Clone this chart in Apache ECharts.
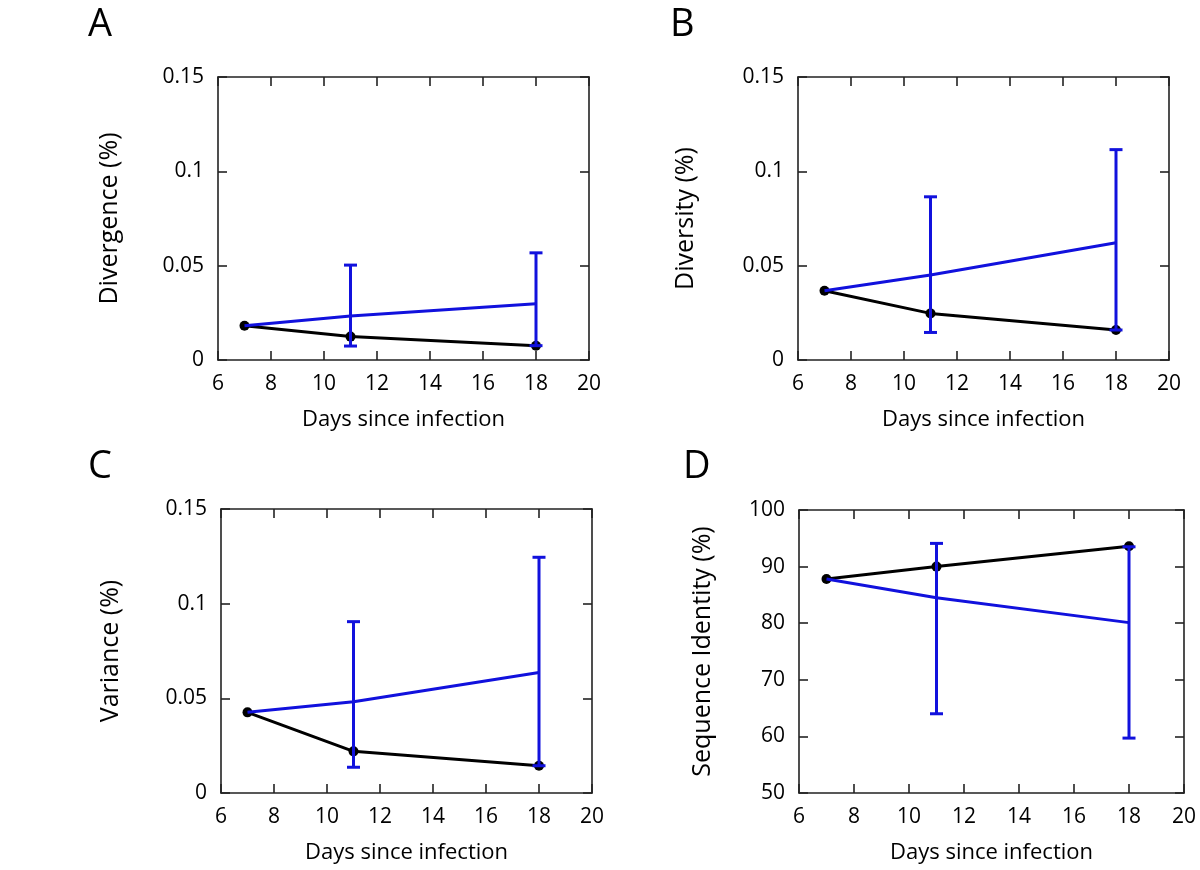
<!DOCTYPE html>
<html>
<head>
<meta charset="utf-8">
<script src="https://cdn.jsdelivr.net/npm/echarts@6/dist/echarts.min.js"></script>
<style>
html,body{margin:0;padding:0;background:#fff;}
#chart{width:1200px;height:870px;}
</style>
</head>
<body>
<div id="chart"></div>
<script>
// ---- data ----
var days = [7, 11, 18];
var errDays = [11, 18];
var xTicks = [6, 8, 10, 12, 14, 16, 18, 20];

var divergenceBlack = [0.0182, 0.0124, 0.0076];
var divergenceBlue  = [0.0182, 0.0233, 0.0298];
var divergenceLow   = [0.0074, 0.0076];
var divergenceHigh  = [0.0503, 0.0568];

var diversityBlack = [0.0367, 0.0247, 0.0159];
var diversityBlue  = [0.0367, 0.0450, 0.0621];
var diversityLow   = [0.0146, 0.0159];
var diversityHigh  = [0.0865, 0.1115];

var varianceBlack = [0.0426, 0.0220, 0.0144];
var varianceBlue  = [0.0426, 0.0482, 0.0637];
var varianceLow   = [0.0136, 0.0144];
var varianceHigh  = [0.0905, 0.1245];

var identityBlack = [87.8, 90.0, 93.6];
var identityBlue  = [87.8, 84.5, 80.1];
var identityLow   = [64.0, 59.7];
var identityHigh  = [94.1, 93.5];

var panelLetters = ['A', 'B', 'C', 'D'];
var yNames = ['Divergence (%)', 'Diversity (%)', 'Variance (%)', 'Sequence Identity (%)'];
var xName = 'Days since infection';

// ---- layout ----
var FONT = 'Open Sans';
var BLUE = '#1111dd';
var panels = [
  {grid:{left:218, top:77, width:371, height:283}, yMin:0, yMax:0.15, yInt:0.05, gap:96,
   black:divergenceBlack, blue:divergenceBlue, low:divergenceLow, high:divergenceHigh, letter:{left:83, top:1}},
  {grid:{left:798, top:77, width:371, height:283}, yMin:0, yMax:0.15, yInt:0.05, gap:100,
   black:diversityBlack, blue:diversityBlue, low:diversityLow, high:diversityHigh, letter:{left:665, top:1}},
  {grid:{left:221, top:509, width:371, height:284}, yMin:0, yMax:0.15, yInt:0.05, gap:98,
   black:varianceBlack, blue:varianceBlue, low:varianceLow, high:varianceHigh, letter:{left:83, top:443}},
  {grid:{left:799, top:510, width:385, height:283}, yMin:50, yMax:100, yInt:10, gap:84,
   black:identityBlack, blue:identityBlue, low:identityLow, high:identityHigh, letter:{left:678, top:443}}
];

var option = {
  backgroundColor:'#fff',
  animation:false,
  title:[], grid:[], xAxis:[], yAxis:[], series:[]
};

var axisLineStyle = {color:'#222', width:1.6};
panels.forEach(function(p, i){
  option.title.push({text:panelLetters[i], left:p.letter.left, top:p.letter.top,
    textStyle:{fontFamily:FONT, fontSize:38, fontWeight:'normal', color:'#000'}});
  option.grid.push(Object.assign({containLabel:false}, p.grid));
  // bottom x
  option.xAxis.push({type:'value', gridIndex:i, min:6, max:20, interval:2, position:'bottom',
    name:xName, nameLocation:'middle', nameGap:49,
    nameTextStyle:{fontFamily:FONT, fontSize:22, color:'#000'},
    axisLine:{show:true, onZero:false, lineStyle:axisLineStyle},
    axisTick:{show:true, inside:true, length:9, lineStyle:axisLineStyle},
    axisLabel:{fontFamily:FONT, fontSize:21, color:'#000', margin:14},
    splitLine:{show:false}});
  // top x (mirror)
  option.xAxis.push({type:'value', gridIndex:i, min:6, max:20, interval:2, position:'top',
    axisLine:{show:true, onZero:false, lineStyle:axisLineStyle},
    axisTick:{show:true, inside:true, length:9, lineStyle:axisLineStyle},
    axisLabel:{show:false}, splitLine:{show:false}});
  // left y
  option.yAxis.push({type:'value', gridIndex:i, min:p.yMin, max:p.yMax, interval:p.yInt, position:'left',
    name:yNames[i], nameLocation:'middle', nameGap:p.gap,
    nameTextStyle:{fontFamily:FONT, fontSize:25, color:'#000'},
    axisLine:{show:true, onZero:false, lineStyle:axisLineStyle},
    axisTick:{show:true, inside:true, length:9, lineStyle:axisLineStyle},
    axisLabel:{fontFamily:FONT, fontSize:21, color:'#000', margin:14},
    splitLine:{show:false}});
  // right y (mirror)
  option.yAxis.push({type:'value', gridIndex:i, min:p.yMin, max:p.yMax, interval:p.yInt, position:'right',
    axisLine:{show:true, onZero:false, lineStyle:axisLineStyle},
    axisTick:{show:true, inside:true, length:9, lineStyle:axisLineStyle},
    axisLabel:{show:false}, splitLine:{show:false}});

  var xi = i*2, yi = i*2;
  option.series.push({type:'line', xAxisIndex:xi, yAxisIndex:yi, z:2,
    data:days.map(function(d,k){return [d, p.black[k]];}),
    symbol:'circle', symbolSize:10, showSymbol:true,
    itemStyle:{color:'#000'}, lineStyle:{color:'#000', width:3}});
  option.series.push({type:'line', xAxisIndex:xi, yAxisIndex:yi, z:3,
    data:days.map(function(d,k){return [d, p.blue[k]];}),
    symbol:'none', lineStyle:{color:BLUE, width:3}});
  option.series.push({type:'custom', xAxisIndex:xi, yAxisIndex:yi, z:4,
    data:errDays.map(function(d,k){return [d, p.low[k], p.high[k]];}),
    renderItem:function(params, api){
      var x = api.value(0);
      var lo = api.coord([x, api.value(1)]);
      var hi = api.coord([x, api.value(2)]);
      var hw = 6.5;
      var st = {stroke:BLUE, lineWidth:3};
      return {type:'group', children:[
        {type:'line', shape:{x1:lo[0], y1:lo[1], x2:hi[0], y2:hi[1]}, style:st},
        {type:'line', shape:{x1:lo[0]-hw, y1:lo[1], x2:lo[0]+hw, y2:lo[1]}, style:st},
        {type:'line', shape:{x1:hi[0]-hw, y1:hi[1], x2:hi[0]+hw, y2:hi[1]}, style:st}
      ]};
    }});
});

var chart = echarts.init(document.getElementById('chart'));
chart.setOption(option);
</script>
</body>
</html>
